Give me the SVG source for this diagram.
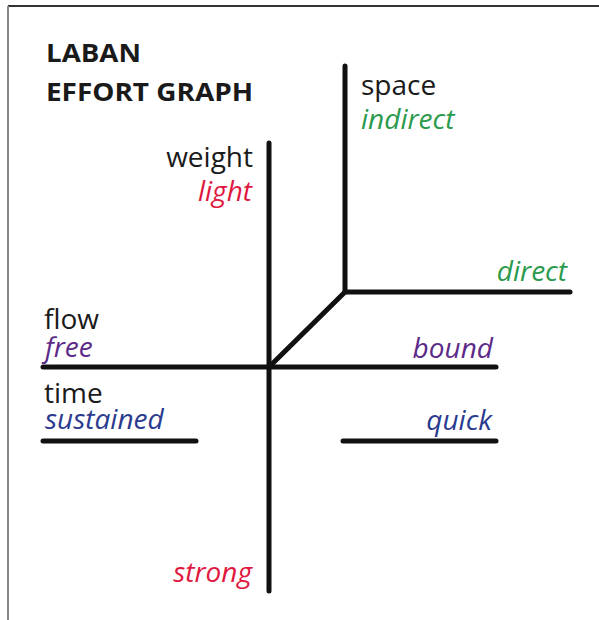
<svg xmlns="http://www.w3.org/2000/svg" width="599" height="620" viewBox="0 0 599 620">
<style>
.ln{stroke:#111;stroke-width:5;stroke-linecap:round;fill:none}
text{font-family:"Open Sans","Noto Sans","Liberation Sans",sans-serif;font-size:28px}
.t{fill:#1a1a1a}
.i{font-style:italic}
.g{fill:#2a9a4c}
.r{fill:#e0183f}
.p{fill:#5c2a88}
.b{fill:#2a3a8e}
.h{font-weight:bold;fill:#1a1a1a;font-size:25px}
.e{text-anchor:end}
</style>
<rect width="599" height="620" fill="#fff"/>
<line x1="8" y1="6" x2="599" y2="6" stroke="#333" stroke-width="2"/>
<line x1="8" y1="6" x2="8" y2="620" stroke="#888" stroke-width="2"/>
<g id="title">
<text class="h" x="46" y="62" textLength="95" lengthAdjust="spacingAndGlyphs">LABAN</text>
<text class="h" x="46" y="101" textLength="207" lengthAdjust="spacingAndGlyphs">EFFORT GRAPH</text>
</g>
<g id="connectors">
<line class="ln" x1="269" y1="143" x2="269" y2="591"/>
<line class="ln" x1="345" y1="66" x2="345" y2="292"/>
<line class="ln" x1="345" y1="292" x2="570" y2="292"/>
<line class="ln" x1="345" y1="292" x2="269" y2="367"/>
<line class="ln" x1="43" y1="367" x2="496" y2="367"/>
<line class="ln" x1="43" y1="441" x2="196" y2="441"/>
<line class="ln" x1="343" y1="441" x2="496" y2="441"/>
</g>
<g id="space"><text class="t" x="361" y="95">space</text><text class="i g" x="361" y="129">indirect</text></g>
<g id="weight"><text class="t e" x="253" y="167">weight</text><text class="i r e" x="252" y="201">light</text></g>
<g id="direct"><text class="i g e" x="567" y="281">direct</text></g>
<g id="flow"><text class="t" x="44" y="329">flow</text><text class="i p" x="45" y="357">free</text></g>
<g id="bound"><text class="i p e" x="493" y="358">bound</text></g>
<g id="time"><text class="t" x="44" y="403">time</text><text class="i b" x="45" y="429">sustained</text></g>
<g id="quick"><text class="i b e" x="492" y="430">quick</text></g>
<g id="strong"><text class="i r e" x="252" y="582">strong</text></g>
</svg>
